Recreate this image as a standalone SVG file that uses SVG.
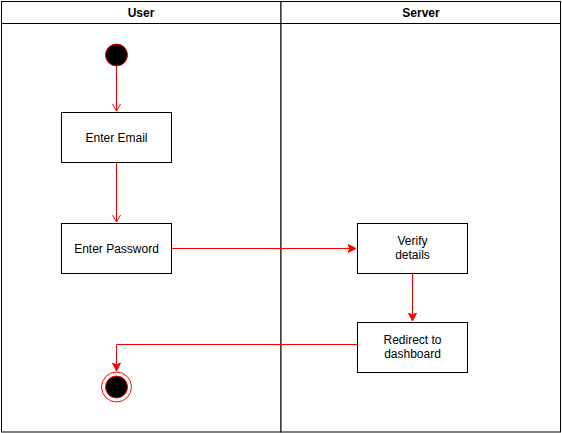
<svg xmlns="http://www.w3.org/2000/svg" width="562" height="433" viewBox="0 0 562 433">
<style>
.lane{fill:#fff;stroke:#000;stroke-width:1}
.box{fill:#fff;stroke:#000;stroke-width:1}
.hdr{font-family:"Liberation Sans",Arial,sans-serif;font-size:12px;font-weight:bold;fill:#000;text-anchor:middle}
.lbl{font-family:"Liberation Sans",Arial,sans-serif;font-size:12px;fill:#000;text-anchor:middle}
.edge{fill:none;stroke:#ff0000;stroke-width:1}
</style>
<defs>
<marker id="open" markerWidth="10" markerHeight="10" refX="8" refY="5" orient="auto" markerUnits="userSpaceOnUse">
<path d="M1,1 L8,5 L1,9" fill="none" stroke="#ff0000" stroke-width="1"/>
</marker>
<marker id="block" markerWidth="10" markerHeight="10" refX="8" refY="5" orient="auto" markerUnits="userSpaceOnUse">
<path d="M0,1 L8,5 L0,9 L2,5 Z" fill="#ff0000" stroke="#ff0000" stroke-width="1"/>
</marker>
</defs>
<rect x="0" y="0" width="562" height="433" fill="#fff"/>
<g id="lanes">
<rect class="lane" x="1.5" y="1.5" width="279.5" height="430.5"/>
<rect class="lane" x="281" y="1.5" width="279.5" height="430.5"/>
<line x1="1.5" y1="23.5" x2="560.5" y2="23.5" stroke="#000"/>
<text class="hdr" x="141" y="17">User</text>
<text class="hdr" x="421" y="17">Server</text>
</g>
<g id="edges">
<path class="edge" d="M116.5,66 L116.5,111" marker-end="url(#open)"/>
<path class="edge" d="M116.5,162.5 L116.5,222" marker-end="url(#open)"/>
<path class="edge" d="M171,248.5 L356,248.5" marker-end="url(#block)"/>
<path class="edge" d="M412.5,273.5 L412.5,321" marker-end="url(#block)"/>
<path class="edge" d="M357,344.5 L116.5,344.5 L116.5,371" marker-end="url(#block)"/>
</g>
<g id="start">
<circle cx="116.5" cy="55" r="11" fill="#000" stroke="#ff0000" stroke-width="1"/>
</g>
<g id="enter-email">
<rect class="box" x="61.5" y="112.5" width="110" height="50"/>
<text class="lbl" x="116.5" y="142">Enter Email</text>
</g>
<g id="enter-password">
<rect class="box" x="61.5" y="223.5" width="110" height="50"/>
<text class="lbl" x="116.5" y="253">Enter Password</text>
</g>
<g id="verify-details">
<rect class="box" x="357.5" y="223.5" width="110" height="50"/>
<text class="lbl" x="412.5" y="245">Verify</text>
<text class="lbl" x="412.5" y="259">details</text>
</g>
<g id="redirect">
<rect class="box" x="357.5" y="322.5" width="110" height="50"/>
<text class="lbl" x="412.5" y="344">Redirect to</text>
<text class="lbl" x="412.5" y="358">dashboard</text>
</g>
<g id="end">
<circle cx="116.5" cy="387" r="15" fill="#fff" stroke="#ff0000" stroke-width="1"/>
<circle cx="116.5" cy="387" r="11" fill="#000" stroke="#ff0000" stroke-width="1"/>
</g>
</svg>
